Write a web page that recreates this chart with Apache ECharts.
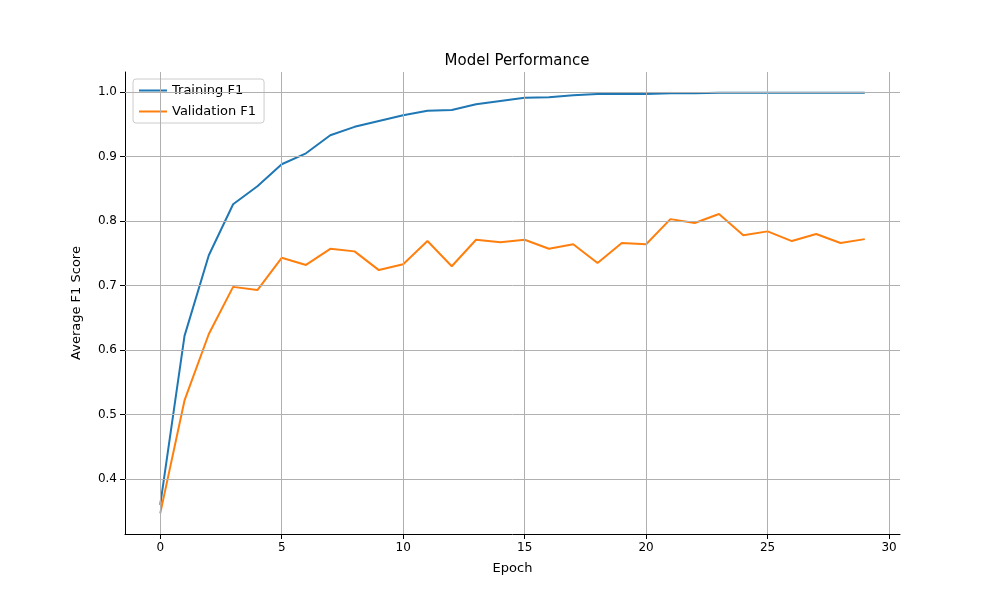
<!DOCTYPE html>
<html><head><meta charset="utf-8">
<script src="https://cdn.jsdelivr.net/npm/echarts@6/dist/echarts.min.js"></script>
<style>html,body{margin:0;padding:0;background:#fff}#c{width:1000px;height:600px}</style>
</head><body><div id="c"></div>
<script>
const epochs = Array.from({length:30},(_,i)=>i);
const trainingF1 = [0.360,0.622,0.747,0.826,0.854,0.888,0.905,0.933,0.946,0.955,0.964,0.971,0.972,0.981,0.986,0.991,0.992,0.995,0.997,0.997,0.997,0.998,0.998,0.999,0.999,0.999,0.999,0.999,0.999,0.999];
const validationF1 = [0.347,0.522,0.625,0.698,0.693,0.743,0.732,0.757,0.753,0.724,0.733,0.769,0.730,0.771,0.767,0.771,0.757,0.764,0.735,0.766,0.764,0.803,0.797,0.811,0.778,0.784,0.769,0.780,0.766,0.772];
const xTicks = [0,5,10,15,20,25,30];
const yTicks = [0.4,0.5,0.6,0.7,0.8,0.9,1.0];
const font = 'DejaVu Sans';
const grey = {color:'#b0b0b0',width:1,type:'solid'};
const chart = echarts.init(document.getElementById('c'));
chart.setOption({
  animation:false,
  textStyle:{fontFamily:font},
  title:{text:'Model Performance',left:512,top:49,textAlign:'center',textStyle:{fontFamily:font,fontSize:15,fontWeight:'normal',color:'#000'}},
  legend:{left:133,top:79,orient:'vertical',itemWidth:28,itemHeight:2,itemGap:8,padding:[5,8,5,6],
    borderColor:'#ccc',borderWidth:1,borderRadius:3,backgroundColor:'#fff',
    textStyle:{fontFamily:font,fontSize:13,color:'#000'},icon:'rect',data:['Training F1','Validation F1']},
  grid:{left:125,right:100,top:72,bottom:66},
  xAxis:{type:'value',min:-1.45,max:30.45,name:'Epoch',nameLocation:'middle',nameGap:28,
    nameTextStyle:{fontFamily:font,fontSize:13,color:'#000'},
    axisLine:{onZero:false,lineStyle:{color:'#000'}},
    axisTick:{show:true,customValues:xTicks,lineStyle:{color:'#000'}},
    axisLabel:{customValues:xTicks,color:'#000',fontSize:12,fontFamily:font},
    splitLine:{show:false}},
  yAxis:{type:'value',min:0.315,max:1.031,name:'Average F1 Score',nameLocation:'middle',nameGap:42,
    nameTextStyle:{fontFamily:font,fontSize:13,color:'#000'},
    axisLine:{show:true,onZero:false,lineStyle:{color:'#000'}},
    axisTick:{show:true,customValues:yTicks,lineStyle:{color:'#000'}},
    axisLabel:{customValues:yTicks,color:'#000',fontSize:12,fontFamily:font,formatter:v=>v.toFixed(1)},
    splitLine:{show:false}},
  series:[
    {name:'grid',type:'line',data:[],silent:true,
      markLine:{silent:true,symbol:'none',label:{show:false},lineStyle:grey,animation:false,
        data:xTicks.map(v=>({xAxis:v})).concat(yTicks.map(v=>({yAxis:v})))}},
    {name:'Training F1',type:'line',data:epochs.map((e,i)=>[e,trainingF1[i]]),showSymbol:false,color:'#1f77b4',lineStyle:{width:2}},
    {name:'Validation F1',type:'line',data:epochs.map((e,i)=>[e,validationF1[i]]),showSymbol:false,color:'#ff7f0e',lineStyle:{width:2}}
  ]
});
</script></body></html>
